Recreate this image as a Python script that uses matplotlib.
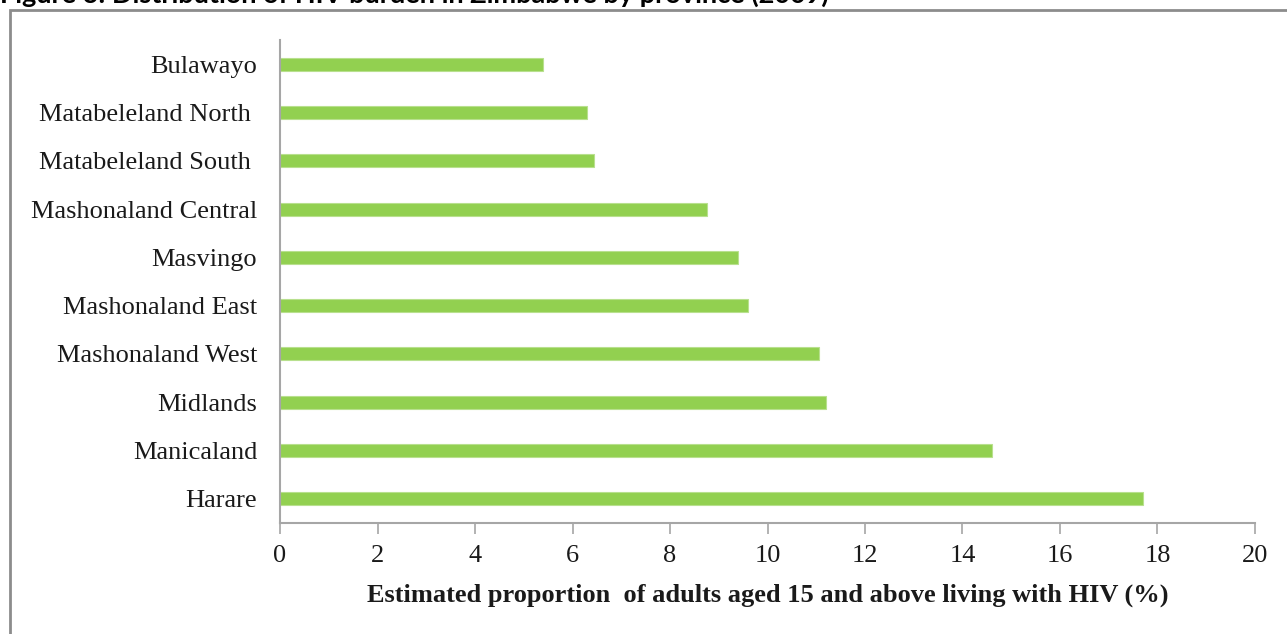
import matplotlib
matplotlib.use('Agg')
import matplotlib.pyplot as plt
from matplotlib.patches import Rectangle

# Province HIV prevalence, top of chart first
provinces = ['Bulawayo', 'Matabeleland North ', 'Matabeleland South ', 'Mashonaland Central',
             'Masvingo', 'Mashonaland East', 'Mashonaland West', 'Midlands',
             'Manicaland', 'Harare']
prevalence = [5.4, 6.3, 6.45, 8.75, 9.4, 9.6, 11.05, 11.2, 14.6, 17.7]
x_ticks = [0, 2, 4, 6, 8, 10, 12, 14, 16, 18, 20]

fig = plt.figure(figsize=(12.87, 6.34), dpi=100)
ax = fig.add_axes([0.2176, 0.175, 0.7575, 0.762])

y_pos = list(range(len(provinces)))
ax.barh(y_pos, prevalence, height=0.27, color='#92d050', edgecolor='#b8e08e',
        linewidth=0.8, zorder=2)

ax.set_ylim(len(provinces) - 0.5, -0.5)
ax.set_xlim(0, 20)
ax.set_yticks(y_pos)
ax.set_yticklabels(provinces)
ax.set_xticks(x_ticks)

serif = 'Liberation Serif'
for lbl in ax.get_yticklabels() + ax.get_xticklabels():
    lbl.set_fontfamily(serif)
    lbl.set_fontsize(19)
    lbl.set_color('#1a1a1a')

ax.tick_params(axis='y', length=0, pad=16.5)
ax.tick_params(axis='x', length=8, width=1.2, color='#a6a6a6', pad=7.5)

for side in ['top', 'right']:
    ax.spines[side].set_visible(False)
for side in ['left', 'bottom']:
    ax.spines[side].set_color('#a6a6a6')
    ax.spines[side].set_linewidth(1.5)

ax.set_xlabel('Estimated proportion  of adults aged 15 and above living with HIV (%)',
              fontfamily=serif, fontweight='bold', fontsize=19, labelpad=12,
              color='#1a1a1a')

# Outer frame round the chart
fig.patches.append(Rectangle((10 / 1287, -0.05), 1.1, 1 - 10 / 634 + 0.05,
                             transform=fig.transFigure, fill=False,
                             edgecolor='#8c8c8c', linewidth=2))

# Caption, only its lower part fits on the page
fig.text(0.0, 1 - 3 / 634, 'Figure 3: Distribution of HIV burden in Zimbabwe by province (2009)',
         fontfamily='Lato', fontweight='bold', fontsize=19.5, va='baseline', ha='left')

fig.savefig('out.png', dpi=100)
